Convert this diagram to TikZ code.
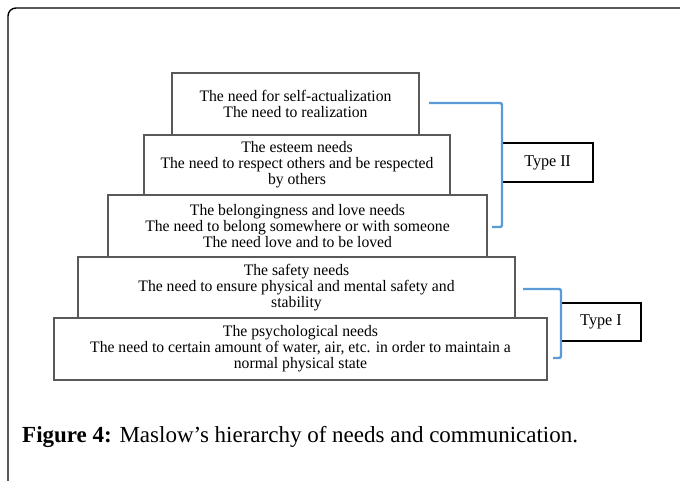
\documentclass[tikz,border=0pt]{standalone}
\usepackage{fontspec}
\setmainfont{Liberation Serif}
\newfontfamily\boxfont[FakeStretch=0.98]{Liberation Serif}
\definecolor{bracketblue}{HTML}{5B9BD5}
\definecolor{boxgray}{HTML}{595959}
\tikzset{
  level/.style={draw=boxgray, line width=1.1pt, fill=white, align=center,
    inner sep=0pt, outer sep=0pt,
    font=\boxfont\fontsize{16}{16}\selectfont},
  typebox/.style={draw=black, line width=2.6pt, fill=white, inner sep=0pt, outer sep=0pt,
    font=\boxfont\fontsize{16.5}{18}\selectfont},
  bracket/.style={draw=bracketblue, line width=2.4pt, rounded corners=2pt},
  frame/.style={draw=black, line width=1.4pt, rounded corners=8pt}
}
\begin{document}
\begin{tikzpicture}[x=1pt,y=-1pt]
\useasboundingbox (0,0) rectangle (680,480);
\draw[frame] (8,490) -- (8,8) -- (690,8);

\node[level, minimum width=247, minimum height=62] (b1) at (295.5,104)
  {The need for self-actualization\\The need to realization};
\node[level, minimum width=306, minimum height=60] (b2) at (297,165)
  {The esteem needs\\The need to respect others and be respected\\by others};
\node[level, minimum width=379, minimum height=62] (b3) at (297.5,226)
  {The belongingness and love needs\\The need to belong somewhere or with someone\\The need love and to be loved};
\node[level, minimum width=437, minimum height=61] (b4) at (296.5,287.5)
  {The safety needs\\The need to ensure physical and mental safety and\\stability};
\node[level, minimum width=493, minimum height=62] (b5) at (300.5,349)
  {The psychological needs\\The need to certain amount of water, air, etc. in order to maintain a\\normal physical state};

% Type boxes
\node[typebox, minimum width=91, minimum height=39] (t2) at (547.5,162.5) {Type I\kern-0.5pt I};
\node[typebox, minimum width=80, minimum height=38] (t1) at (601,322) {Type I};

% brackets
\coordinate (s2) at (429,103);
\coordinate (e2) at (492,227);
\draw[bracket] (s2) -- (t2.west |- s2) -- (t2.west |- e2) -- (e2);
\coordinate (s1) at (523,289);
\coordinate (e1) at (553,358);
\draw[bracket] (s1) -- (t1.west |- s1) -- (t1.west |- e1) -- (e1);

\node[anchor=base west, inner sep=0pt, font=\fontsize{23}{26}\selectfont] (cap) at (22,442)
  {\textbf{Figure 4:} Maslow’s hierarchy of needs and communication.};
\end{tikzpicture}
\end{document}
